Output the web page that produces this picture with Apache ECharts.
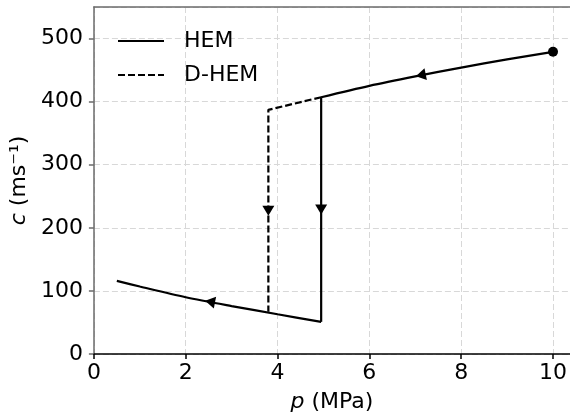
<!DOCTYPE html>
<html>
<head>
    <meta charset="utf-8">
    <script src="https://cdn.jsdelivr.net/npm/echarts@6/dist/echarts.min.js"></script>
    <style>
        html, body { margin: 0; padding: 0; background: #fff; }
        #container { width: 570px; height: 418px; }
    </style>
</head>
<body>
    <div id="container"></div>
    <script type="text/javascript">
        // HEM: upper branch (10 MPa down to the jump), vertical drop, lower branch
        var hemUpperP = [10, 9, 8, 7, 6, 4.95];
        var hemUpperC = [479, 467, 454, 440, 425, 407];
        var hemDropP = [4.95, 4.95];
        var hemDropC = [407, 51];
        var hemLowerP = [4.95, 4, 3, 2, 1, 0.5];
        var hemLowerC = [51, 63, 76, 90, 107, 116];
        // D-HEM: the part that differs from HEM (delayed jump)
        var dhemP = [4.95, 3.8, 3.8];
        var dhemC = [407, 387, 67];
        // direction arrows and start point
        var arrowP = [7.12, 4.95, 3.8, 2.53];
        var arrowC = [442, 229, 227, 83];
        var startP = [10];
        var startC = [479];

        var xTicks = [0, 2, 4, 6, 8, 10];
        var yTicks = [0, 100, 200, 300, 400, 500];

        function pairs(xs, ys) {
            return xs.map(function (x, i) { return [x, ys[i]]; });
        }

        var font = 'DejaVu Sans';
        var arrowRot = [101.5, 180, 180, 79];
        var gridLine = { show: true, lineStyle: { color: '#d8d8d8', width: 1, type: [6, 3] } };
        var nameStyle = {
            fontFamily: font, fontSize: 22, color: '#000',
            rich: { i: { fontFamily: font, fontSize: 22, fontStyle: 'italic', color: '#000' } }
        };

        function hemPart(xs, ys, smooth) {
            return {
                name: 'HEM', type: 'line', data: pairs(xs, ys),
                symbol: 'none', smooth: smooth, z: 3,
                itemStyle: { color: '#000' },
                lineStyle: { color: '#000', width: 2.2, type: 'solid' }
            };
        }

        var chart = echarts.init(document.getElementById('container'), null, { renderer: 'canvas' });
        var option = {
            animation: false,
            backgroundColor: '#fff',
            textStyle: { fontFamily: font },
            grid: { left: 92, top: 7, width: 478, height: 349 },
            legend: {
                data: ['HEM', 'D-HEM'],
                orient: 'vertical',
                left: 112, top: 24,
                itemWidth: 46, itemHeight: 14, itemGap: 10,
                itemStyle: { color: 'rgba(0,0,0,0)', borderWidth: 0 },
                textStyle: { fontFamily: font, fontSize: 22, color: '#000', lineHeight: 24, padding: [0, 0, 0, 15] }
            },
            xAxis: [{
                type: 'value', min: 0, max: 10.37, interval: 2,
                name: '{i|p} (MPa)', nameLocation: 'middle', nameGap: 37,
                nameTextStyle: nameStyle,
                axisLine: { lineStyle: { color: '#000', width: 1.5 } },
                axisTick: { show: true, length: 5, lineStyle: { color: '#000', width: 1.5 } },
                axisLabel: {
                    fontFamily: font, fontSize: 22, color: '#000', margin: 8, showMaxLabel: false,
                    formatter: function (v) { return xTicks.indexOf(v) >= 0 ? String(v) : ''; }
                },
                splitLine: gridLine
            }, {
                // top spine only
                type: 'value', position: 'top', min: 0, max: 10.37, interval: 2,
                axisLine: { show: true, onZero: false, lineStyle: { color: '#6b6b6b', width: 1.5 } },
                axisTick: { show: false }, axisLabel: { show: false }, splitLine: { show: false }
            }],
            yAxis: {
                type: 'value', min: 0, max: 550, interval: 100,
                name: '{i|c} (ms⁻¹)', nameLocation: 'middle', nameGap: 58, nameRotate: 90,
                nameTextStyle: nameStyle,
                axisLine: { show: true, lineStyle: { color: '#6b6b6b', width: 1.5 } },
                axisTick: { show: true, length: 5, lineStyle: { color: '#6b6b6b', width: 1.5 } },
                axisLabel: {
                    fontFamily: font, fontSize: 22, color: '#000', margin: 11, showMaxLabel: false,
                    formatter: function (v) { return yTicks.indexOf(v) >= 0 ? String(v) : ''; }
                },
                splitLine: gridLine
            },
            series: [
                hemPart(hemUpperP, hemUpperC, 0.3),
                hemPart(hemDropP, hemDropC, false),
                hemPart(hemLowerP, hemLowerC, 0.3),
                {
                    name: 'D-HEM', type: 'line', data: pairs(dhemP, dhemC),
                    symbol: 'none', z: 3,
                    itemStyle: { color: '#000' },
                    lineStyle: { color: '#000', width: 2.2, type: [7, 3] }
                },
                {
                    name: 'arrows', type: 'scatter', z: 4,
                    data: pairs(arrowP, arrowC).map(function (d, i) {
                        return { value: d, symbolRotate: arrowRot[i] };
                    }),
                    symbol: 'triangle', symbolSize: [12, 10],
                    itemStyle: { color: '#000', opacity: 1 }
                },
                {
                    name: 'start', type: 'scatter', z: 4,
                    data: pairs(startP, startC),
                    symbol: 'circle', symbolSize: 10,
                    itemStyle: { color: '#000', opacity: 1 }
                }
            ]
        };
        chart.setOption(option);
    </script>
</body>
</html>
